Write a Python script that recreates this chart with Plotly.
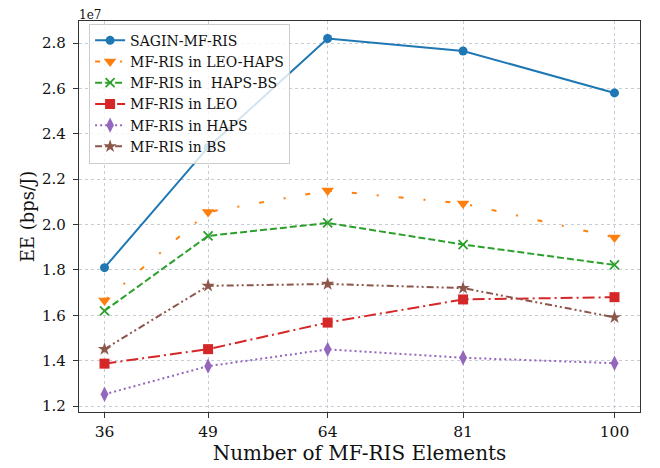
import plotly.graph_objects as go

# Number of MF-RIS elements
elements = [36, 49, 64, 81, 100]

# EE values in units of 1e7 bps/J
sagin = [1.81, 2.34, 2.82, 2.765, 2.58]
leo_haps = [1.665, 2.055, 2.15, 2.093, 1.943]
haps_bs = [1.62, 1.95, 2.007, 1.912, 1.822]
leo = [1.387, 1.451, 1.568, 1.67, 1.68]
haps = [1.252, 1.376, 1.45, 1.413, 1.389]
bs = [1.451, 1.73, 1.738, 1.72, 1.591]

names = ["SAGIN-MF-RIS", "MF-RIS in LEO-HAPS", "MF-RIS in \u00a0HAPS-BS",
         "MF-RIS in LEO", "MF-RIS in HAPS", "MF-RIS in BS"]

y_ticks = [1.2, 1.4, 1.6, 1.8, 2.0, 2.2, 2.4, 2.6, 2.8]
y_tick_labels = ["1.2", "1.4", "1.6", "1.8", "2.0", "2.2", "2.4", "2.6", "2.8"]
x_tick_labels = ["36", "49", "64", "81", "100"]

styles = [
    dict(color="#1f77b4", dash="solid", symbol="circle", size=9),
    dict(color="#ff7f0e", dash="5px,20px,2px,20px", symbol="triangle-down", size=11),
    dict(color="#2ca02c", dash="7px,3px", symbol="x-thin", size=9),
    dict(color="#d62728", dash="12px,4px,2px,4px", symbol="square", size=10),
    dict(color="#9467bd", dash="2px,3px", symbol="diamond-tall", size=11),
    dict(color="#8c564b", dash="7px,3px,2px,3px,2px,3px", symbol="star", size=10),
]

series = [sagin, leo_haps, haps_bs, leo, haps, bs]

fig = go.Figure()
for name, vals, st in zip(names, series, styles):
    marker = dict(symbol=st["symbol"], size=st["size"], color=st["color"])
    if st["symbol"] == "x-thin":
        marker["line"] = dict(color=st["color"], width=1.8)
    else:
        marker["line"] = dict(width=0)
    fig.add_trace(go.Scatter(
        x=elements, y=vals, name=name, mode="lines+markers",
        line=dict(color=st["color"], width=2, dash=st["dash"]),
        marker=marker,
    ))

font_family = "DejaVu Serif"
fig.update_layout(
    width=652, height=460,
    margin=dict(l=71, r=20, t=13, b=56, autoexpand=False),
    paper_bgcolor="white", plot_bgcolor="white",
    font=dict(family=font_family, color="#111", size=15),
    legend=dict(
        x=0.018, y=0.993, xanchor="left", yanchor="top",
        bgcolor="rgba(255,255,255,0.8)", bordercolor="#cccccc", borderwidth=1,
        font=dict(family=font_family, size=14, color="#111"),
        tracegroupgap=0, itemwidth=30,
    ),
    showlegend=True,
)
fig.update_xaxes(
    range=[32.8, 103.2], tickvals=elements, ticktext=x_tick_labels,
    showline=True, mirror=True, linecolor="#333", linewidth=1.3,
    ticks="outside", ticklen=5, tickcolor="#333",
    showgrid=True, gridcolor="#c5ccd4", griddash="3px,3px", gridwidth=1,
    zeroline=False, automargin=False,
    tickfont=dict(size=15.5, family=font_family),
    title=dict(text="Number of MF-RIS Elements", font=dict(size=20, family=font_family), standoff=2),
)
fig.update_yaxes(
    range=[1.174, 2.897], tickvals=y_ticks, ticktext=y_tick_labels,
    showline=True, mirror=True, linecolor="#333", linewidth=1.3,
    ticks="outside", ticklen=5, tickcolor="#333", ticklabelstandoff=4,
    showgrid=True, gridcolor="#c5ccd4", griddash="3px,3px", gridwidth=1,
    zeroline=False, automargin=False,
    tickfont=dict(size=15, family=font_family),
    title=dict(text="EE (bps/J)", font=dict(size=18, family=font_family), standoff=2),
)
fig.add_annotation(
    text="1e7", xref="paper", yref="paper", x=0, y=1, xanchor="left", yanchor="bottom",
    showarrow=False, font=dict(size=12, family=font_family, color="#111"),
    xshift=-2, yshift=-3,
)

fig.write_html("out.html")
